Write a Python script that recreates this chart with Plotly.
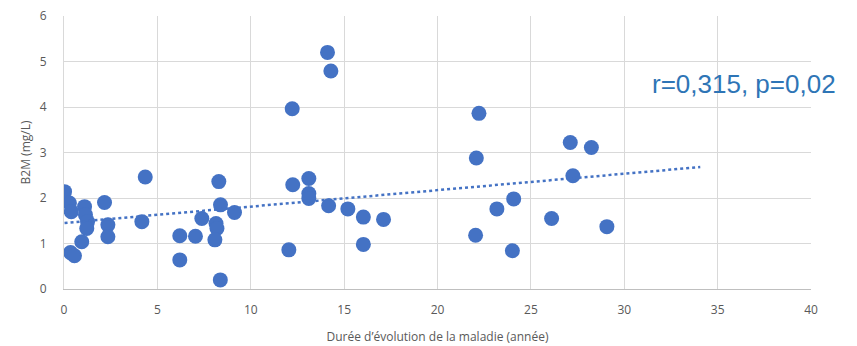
import numpy as np
import plotly.graph_objects as go

duree = [0.03, 0.29, 0.39, 1.10, 1.15, 1.26, 1.22, 0.95, 0.35, 0.56,
         2.17, 2.35, 2.35, 4.35, 4.17, 6.20, 6.20, 7.04, 7.38, 8.29,
         8.38, 8.14, 8.19, 8.08, 8.37, 9.13, 12.25, 12.22, 12.04, 13.11,
         13.11, 13.11, 14.11, 14.29, 14.17, 15.20, 16.03, 16.03, 17.11, 22.22,
         22.08, 22.04, 23.18, 24.08, 24.01, 26.11, 27.11, 28.24, 27.25, 29.07]
b2m = [2.14, 1.89, 1.70, 1.81, 1.63, 1.48, 1.33, 1.04, 0.80, 0.73,
       1.90, 1.41, 1.15, 2.46, 1.48, 1.17, 0.64, 1.16, 1.55, 2.36,
       1.85, 1.44, 1.33, 1.08, 0.20, 1.68, 2.29, 3.96, 0.86, 2.43,
       2.10, 1.99, 5.20, 4.79, 1.83, 1.76, 1.58, 0.98, 1.53, 3.86,
       2.88, 1.18, 1.76, 1.98, 0.84, 1.55, 3.22, 3.11, 2.49, 1.37]
x_ticks = [0, 5, 10, 15, 20, 25, 30, 35, 40]
y_ticks = [0, 1, 2, 3, 4, 5, 6]
forecast = 5  # Excel forward forecast for trendline

slope, intercept = np.polyfit(duree, b2m, 1)
tx = np.array([min(duree), max(duree) + forecast])
ty = slope * tx + intercept

blue = "#4472C4"
grey = "#595959"
font = "Open Sans"

fig = go.Figure()
fig.add_trace(go.Scatter(x=duree, y=b2m, mode="markers",
                         marker=dict(size=15, color=blue, line=dict(width=0)),
                         showlegend=False))
fig.add_trace(go.Scatter(x=tx, y=ty, mode="lines",
                         line=dict(color=blue, width=2.5, dash="dot"),
                         showlegend=False))
fig.add_annotation(x=36.4, xref="x", y=4.5, yref="y",
                   text="r=0,315, p=0,02", showarrow=False,
                   font=dict(family="Liberation Sans", size=26, color="#2E75B6"))

fig.update_layout(
    width=849, height=338,
    margin=dict(l=56, r=46, t=8, b=57),
    plot_bgcolor="white", paper_bgcolor="white",
    font=dict(family=font, size=12, color=grey),
    xaxis=dict(range=[0, 40], tickvals=x_ticks, showgrid=True, gridcolor="#D9D9D9",
               gridwidth=1, zeroline=False, showline=True, linecolor="#BFBFBF",
               linewidth=1, ticks="", ticklabelstandoff=10, ticklabeloverflow="allow",
               automargin=False, tickfont=dict(size=12, color=grey),
               title=dict(text="Durée d’évolution de la maladie (année)",
                          font=dict(size=12, color=grey), standoff=15)),
    yaxis=dict(range=[0, 6], tickvals=y_ticks, showgrid=True, gridcolor="#D9D9D9",
               gridwidth=1, zeroline=False, showline=True, linecolor="#D9D9D9",
               linewidth=1, ticks="", ticklabelstandoff=14, ticklabeloverflow="allow",
               automargin=False, tickfont=dict(size=12, color=grey),
               title=dict(text="B2M (mg/L)", font=dict(size=12, color=grey), standoff=6)),
)
fig.write_html("out.html")
